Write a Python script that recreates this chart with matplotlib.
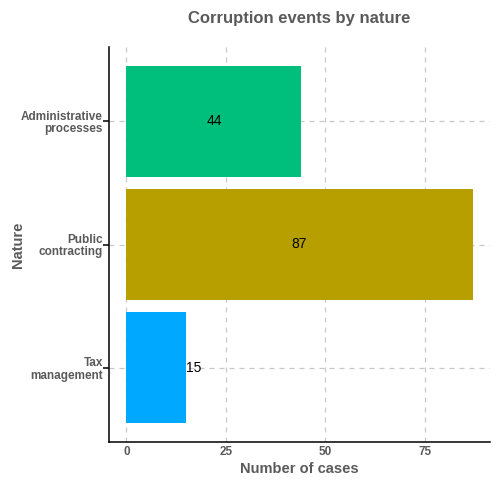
import matplotlib
matplotlib.use("Agg")
import matplotlib.pyplot as plt

# data
categories = ["Tax\nmanagement", "Public\ncontracting", "Administrative\nprocesses"]
cases = [15, 87, 44]
colors = ["#00A9FF", "#B79F00", "#00BF7D"]
xticks = [0, 25, 50, 75]

plt.rcParams["font.family"] = ["Liberation Sans", "DejaVu Sans"]
grey = "#5a5a5a"

fig = plt.figure(figsize=(5, 5), dpi=100)
ax = fig.add_axes([0.218, 0.116, 0.762, 0.79])

ypos = list(range(1, len(categories) + 1))
ax.barh(ypos, cases, height=0.9, color=colors, zorder=2)

for y, v in zip(ypos, cases):
    if v < 20:
        ax.text(v, y, str(v), ha="left", va="center", fontsize=10, color="black", zorder=3)
    else:
        ax.text(v / 2, y, str(v), ha="center", va="center", fontsize=10, color="black", zorder=3)

ax.set_xlim(-0.05 * max(cases), max(cases) * 1.05)
ax.set_ylim(0.4, len(categories) + 0.6)
ax.set_xticks(xticks)
ax.set_yticks(ypos)
ax.set_yticklabels(categories)

ax.grid(True, color="#c8c8c8", linestyle=(0, (4, 4)), linewidth=0.9, zorder=0)
ax.set_axisbelow(True)
for s in ["top", "right"]:
    ax.spines[s].set_visible(False)
for s in ["left", "bottom"]:
    ax.spines[s].set_color("black")
    ax.spines[s].set_linewidth(1.1)
ax.tick_params(axis="x", length=0, pad=3)
ax.tick_params(axis="y", length=4, width=1.1, color="black", pad=0.5)

for lab in ax.get_xticklabels() + ax.get_yticklabels():
    lab.set_fontweight("bold")
    lab.set_color(grey)
    lab.set_fontsize(8.5)
for lab in ax.get_yticklabels():
    lab.set_multialignment("right")
    lab.set_linespacing(1.05)

ax.set_xlabel("Number of cases", fontweight="bold", color=grey, fontsize=10.5, labelpad=3)
ax.set_ylabel("Nature", fontweight="bold", color=grey, fontsize=10.5)
ax.yaxis.set_label_coords(-0.22, 0.5)
ax.set_title("Corruption events by nature", fontweight="bold", color=grey, fontsize=12, pad=17)

fig.savefig("out.png", dpi=100)
